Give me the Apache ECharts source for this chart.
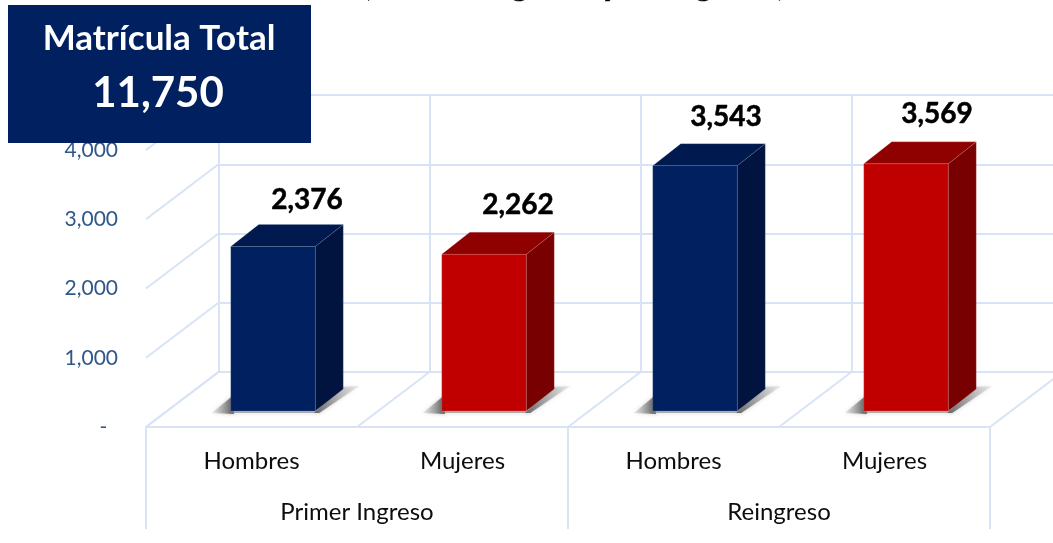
<!DOCTYPE html>
<html><head><meta charset="utf-8">
<style>html,body{margin:0;padding:0;background:#fff;overflow:hidden}#c{width:1053px;height:543px}</style>
<script src="https://cdn.jsdelivr.net/npm/echarts@6/dist/echarts.min.js"></script>
</head><body><div id="c"></div>
<script>
const categories = ['Hombres', 'Mujeres', 'Hombres', 'Mujeres'];
const groups = ['Primer Ingreso', 'Reingreso'];
const values = [2376, 2262, 3543, 3569];
const wallTicks = [0, 1000, 2000, 3000, 4000];
const boxTitle = 'Matrícula Total';
const boxValue = '11,750';
const chartTitle = '(Primer Ingreso y Reingreso)';

const FONT = 'Lato, "Open Sans", sans-serif';
const GRID = '#d8e4f5';
const DEPTH_X = 72.5, DEPTH_Y = 55;    // wall to front of floor
const BAR_DX = 28, BAR_DY = 22;        // bar depth
const BAR_W = 84.5;
const labelGap = [46, 49, 49, 50];
const labelShift = [34, 34, 31, 31];
const palette = [
  {front:'#002060', side:'#00143f', top:'#001a4f', edge:'rgba(150,165,195,0.3)'},
  {front:'#c00000', side:'#780000', top:'#8f0000', edge:'rgba(235,170,170,0.3)'}
];
const fmt = v => v === 0 ? '-  ' : v.toLocaleString('en-US');

function renderWallLines(params, api) {
  const band = api.size([1, 0])[0];
  const p = api.coord([api.value(0), api.value(1)]);
  const x = p[0] - band / 2;
  return {type:'line', silent:true,
    shape:{x1:x, y1:p[1], x2:x - DEPTH_X, y2:p[1] + DEPTH_Y},
    style:{stroke:GRID, lineWidth:2}};
}
function renderBar(params, api) {
  const i = params.dataIndex;
  const v = api.value(1);
  const top = api.coord([i, v]);
  const base = api.coord([i, 0]);
  const x0 = top[0] - BAR_W / 2, x1 = x0 + BAR_W, yT = top[1], yB = base[1];
  const c = palette[i % 2];
  const grad = (x, y, x2, y2, a, b) => ({type:'linear', x, y, x2, y2, global:false,
    colorStops:[{offset:0, color:a},{offset:1, color:b}]});
  const soft = {shadowBlur:4, shadowColor:'rgba(120,120,120,0.45)'};
  return {type:'group', children:[
    {type:'polygon', shape:{points:[[x0-19,yB+2],[x0+3,yB+3],[x0+3,yB-16]]},
      style:Object.assign({fill:grad(1,0,0,0,'rgba(85,85,85,1)','rgba(190,190,190,0.3)')}, soft)},
    {type:'polygon', shape:{points:[[x0,yB-1],[x1+2,yB-1],[x1+2,yB+2],[x0,yB+2]]},
      style:Object.assign({fill:'rgba(130,130,130,0.6)'}, soft)},
    {type:'polygon', shape:{points:[[x1-1,yB+2],[x1+BAR_DX-4,yB-BAR_DY-2],[x1+BAR_DX+16,yB-BAR_DY-3],[x1+4,yB+2]]},
      style:Object.assign({fill:grad(0,1,1,0,'#666','rgba(170,170,170,0.2)')}, soft)},
    {type:'polygon', shape:{points:[[x1,yT],[x1+BAR_DX,yT-BAR_DY],[x1+BAR_DX,yB-BAR_DY],[x1,yB]]},
      style:{fill:c.side, stroke:c.edge, lineWidth:0.6}},
    {type:'polygon', shape:{points:[[x0,yT],[x0+BAR_DX,yT-BAR_DY],[x1+BAR_DX,yT-BAR_DY],[x1,yT]]},
      style:{fill:c.top, stroke:c.edge, lineWidth:0.6}},
    {type:'rect', shape:{x:x0, y:yT, width:BAR_W, height:yB-yT},
      style:{fill:c.front, stroke:c.edge, lineWidth:0.6}},
    {type:'text', style:{text:fmt(v), x:top[0]+labelShift[i], y:yT-labelGap[i],
      textAlign:'center', textVerticalAlign:'middle', align:'center', verticalAlign:'middle',
      font:'bold 28px '+FONT, fill:'#000', stroke:'#000', lineWidth:0.5}}
  ]};
}

const chart = echarts.init(document.getElementById('c'), null, {renderer:'canvas'});
const wallData = wallTicks.map(v => [0, v]);
const floorData = categories.map((_, i) => [i, 0]).concat([[categories.length, 0]]);
chart.setOption({
  animation:false,
  backgroundColor:'#fff',
  grid:[
    {left:218.5, width:844, top:95, height:277, outerBoundsMode:'none'},  // back wall
    {left:146, width:844, top:150, height:277, outerBoundsMode:'none'},   // front edge with the axis text
    {left:167.5, width:844, top:134, height:277, outerBoundsMode:'none'}  // bars
  ],
  xAxis:[
    {gridIndex:0, type:'category', data:categories, axisLabel:{show:false}, axisTick:{show:false}, axisLine:{show:false},
      splitLine:{show:true, interval:0, lineStyle:{color:GRID, width:2}}},
    {gridIndex:1, type:'category', position:'bottom', data:categories, axisTick:{show:false},
      axisLine:{show:true, lineStyle:{color:GRID, width:2}},
      axisLabel:{interval:0, margin:22, color:'#0d0d0d', fontFamily:FONT, fontSize:24}, splitLine:{show:false}},
    {gridIndex:1, type:'category', position:'bottom', data:groups,
      axisLine:{show:false}, axisTick:{show:true, length:102, lineStyle:{color:GRID, width:2}},
      axisLabel:{interval:0, margin:73, color:'#0d0d0d', fontFamily:FONT, fontSize:24}, splitLine:{show:false}},
    {gridIndex:2, type:'category', data:categories, show:false}
  ],
  yAxis:[
    {gridIndex:0, type:'value', min:0, max:4000, interval:1000, axisLabel:{show:false}, axisTick:{show:false}, axisLine:{show:false},
      splitLine:{show:true, lineStyle:{color:GRID, width:2}}},
    {gridIndex:1, type:'value', min:0, max:4000, interval:1000, axisTick:{show:false}, axisLine:{show:false}, splitLine:{show:false},
      axisLabel:{margin:28, color:'#2f5789', fontFamily:FONT, fontSize:21, formatter:fmt}},
    {gridIndex:2, type:'value', min:0, max:4000, show:false}
  ],
  series:[
    {type:'custom', name:'side wall', xAxisIndex:0, yAxisIndex:0, z:1, silent:true, data:wallData, renderItem:renderWallLines, clip:false},
    {type:'custom', name:'floor', xAxisIndex:0, yAxisIndex:0, z:1, silent:true, data:floorData, renderItem:renderWallLines, clip:false},
    {type:'custom', name:'Matrícula', xAxisIndex:3, yAxisIndex:2, z:5, silent:true, data:values.map((v, i) => [i, v]), renderItem:renderBar, clip:false}
  ],
  graphic:[
    {type:'text', z:50, style:{text:chartTitle, x:574, y:-16, textAlign:'center', align:'center', textVerticalAlign:'middle', verticalAlign:'middle', font:'bold 34px '+FONT, fill:'#000', stroke:'#000', lineWidth:0.6}},
    {type:'rect', z:100, shape:{x:8, y:5, width:303, height:138}, style:{fill:'#002060'}},
    {type:'text', z:101, style:{text:boxTitle, x:159, y:39, textAlign:'center', align:'center', textVerticalAlign:'middle', verticalAlign:'middle', font:'bold 35px '+FONT, fill:'#fff'}},
    {type:'text', z:101, style:{text:boxValue, x:158, y:93, textAlign:'center', align:'center', textVerticalAlign:'middle', verticalAlign:'middle', font:'bold 42px '+FONT, fill:'#fff'}}
  ]
});
</script></body></html>
